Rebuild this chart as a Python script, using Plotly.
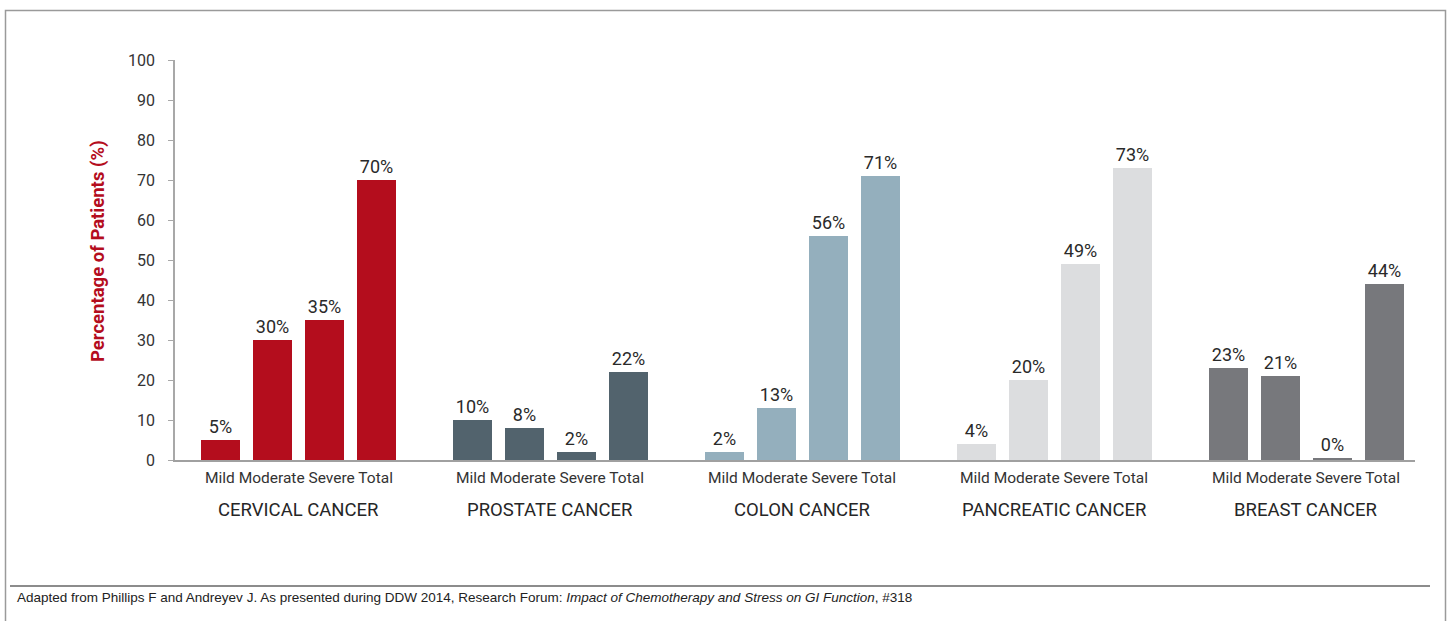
import plotly.graph_objects as go

# ---- data ----
groups = ["CERVICAL CANCER", "PROSTATE CANCER", "COLON CANCER", "PANCREATIC CANCER", "BREAST CANCER"]
severity = ["Mild", "Moderate", "Severe", "Total"]
cervical = [5, 30, 35, 70]
prostate = [10, 8, 2, 22]
colon = [2, 13, 56, 71]
pancreatic = [4, 20, 49, 73]
breast = [23, 21, 0.4, 44]
series = [cervical, prostate, colon, pancreatic, breast]
colors = ["#b40d1d", "#52636d", "#94afbd", "#dcdddf", "#77787c"]
y_ticks = [0, 10, 20, 30, 40, 50, 60, 70, 80, 90, 100]
footnote = ("Adapted from Phillips F and Andreyev J. As presented during DDW 2014, Research Forum: "
            "<i>Impact of Chemotherapy and Stress on GI Function</i>, #318")

# ---- layout constants ----
W, H = 1448, 621
L, R, T, B = 175, 33, 60, 161
GROUP_STEP = 4.846          # bars per group plus inter-group gap, in bar slots
BAR_W = 0.75
X_RANGE = [-0.875, 4 * GROUP_STEP + 3 + 0.587]

plot_w = W - L - R
plot_h = H - T - B


def px_to_paper_x(px):
    return (px - L) / plot_w


def px_to_paper_y(py):
    return (H - B - py) / plot_h


font_main = "Roboto, 'DejaVu Sans', sans-serif"
text_col = "#333333"

fig = go.Figure()
for g, (name, vals, col) in enumerate(zip(groups, series, colors)):
    xs = [g * GROUP_STEP + j for j in range(len(severity))]
    fig.add_trace(go.Bar(
        x=xs, y=vals, width=BAR_W, marker=dict(color=col, line=dict(width=0)),
        texttemplate="%{y:.0f}%", textposition="outside",
        textfont=dict(family=font_main, size=18, color="#2a2a2a"),
        cliponaxis=False, name=name, showlegend=False, hoverinfo="skip",
    ))

annotations = []
for g, name in enumerate(groups):
    cx = g * GROUP_STEP + 1.5
    annotations.append(dict(
        x=cx, xref="x", y=px_to_paper_y(478), yref="paper",
        text=" ".join(severity), showarrow=False, yanchor="middle",
        font=dict(family=font_main, size=15.5, color=text_col),
    ))
    annotations.append(dict(
        x=cx, xref="x", y=px_to_paper_y(510), yref="paper",
        text=name, showarrow=False, yanchor="middle",
        font=dict(family=font_main, size=18.5, color="#262626"),
    ))

annotations.append(dict(
    x=px_to_paper_x(98), xref="paper", y=px_to_paper_y(251), yref="paper",
    text="Percentage of Patients (%)", textangle=-90, showarrow=False,
    xanchor="center", yanchor="middle",
    font=dict(family=font_main, size=18.5, color="#b40d1d", weight=700),
))
annotations.append(dict(
    x=px_to_paper_x(15), xref="paper", y=px_to_paper_y(597), yref="paper",
    text=footnote, showarrow=False, xanchor="left", yanchor="middle",
    font=dict(family="'Liberation Sans', Arial, sans-serif", size=13.5, color="#222222"),
))

shapes = [
    # outer frame
    dict(type="rect", xref="paper", yref="paper",
         x0=px_to_paper_x(5.5), x1=px_to_paper_x(1445.5),
         y0=px_to_paper_y(640), y1=px_to_paper_y(10.5),
         line=dict(color="#9a9a9a", width=1.5), fillcolor="rgba(0,0,0,0)", layer="below"),
    # rule above the footnote
    dict(type="line", xref="paper", yref="paper",
         x0=px_to_paper_x(10), x1=px_to_paper_x(1430),
         y0=px_to_paper_y(586), y1=px_to_paper_y(586),
         line=dict(color="#8c8c8c", width=2)),
]

fig.update_layout(
    width=W, height=H,
    margin=dict(l=L, r=R, t=T, b=B, pad=0),
    paper_bgcolor="white", plot_bgcolor="white",
    bargap=0, barmode="overlay",
    xaxis=dict(range=X_RANGE, showticklabels=False, ticks="", showgrid=False,
               zeroline=False, showline=True, linecolor="#a0a0a0", linewidth=1.5, fixedrange=True),
    yaxis=dict(range=[0, 100], tickvals=y_ticks, ticks="outside", ticklen=5, tickwidth=1,
               tickcolor="#a8a8a8", showgrid=False, zeroline=False, showline=True,
               linecolor="#a8a8a8", linewidth=1.5, ticklabelstandoff=10,
               tickfont=dict(family=font_main, size=16, color=text_col), fixedrange=True),
    annotations=annotations, shapes=shapes,
)

fig.write_html("out.html")
